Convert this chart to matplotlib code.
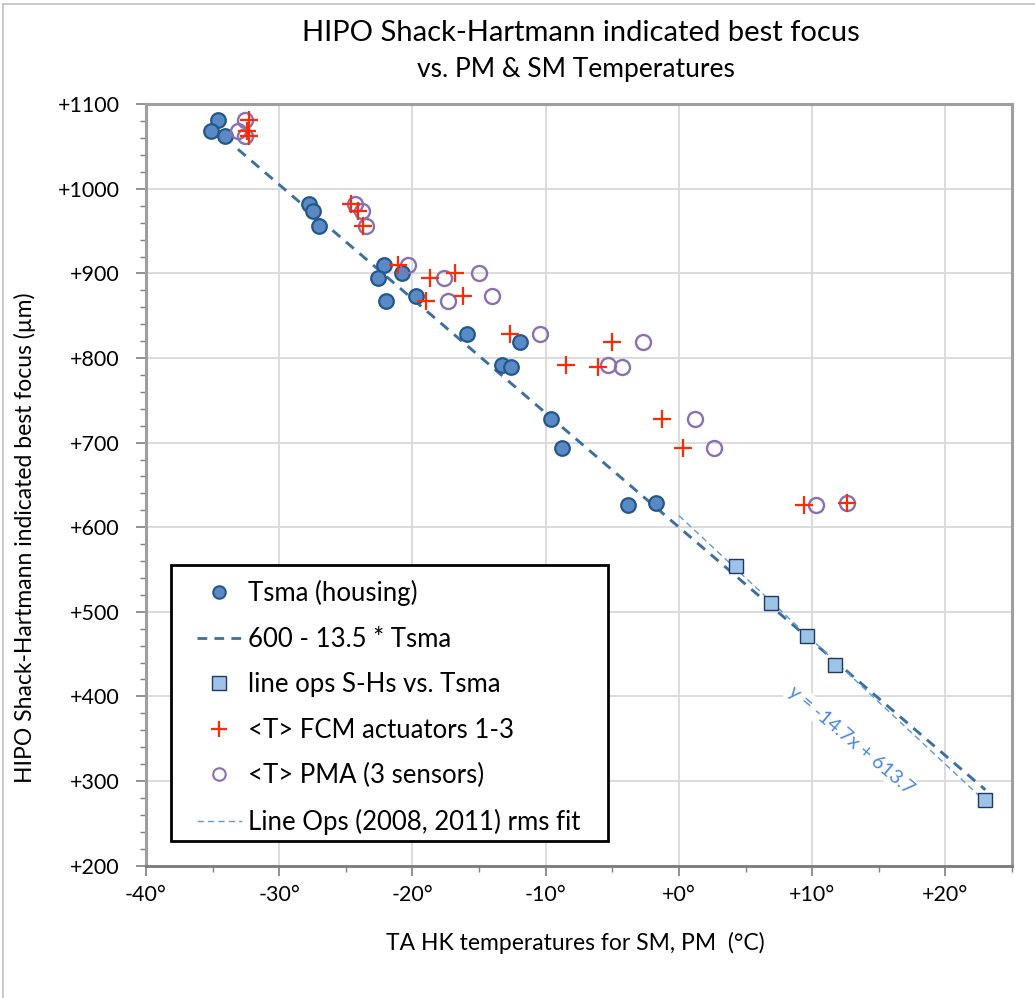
import matplotlib
matplotlib.use("Agg")
import matplotlib.pyplot as plt
from matplotlib.lines import Line2D
from matplotlib.patches import Rectangle
import numpy as np

plt.rcParams['font.family'] = ['Lato', 'DejaVu Sans']

# Shack-Hartmann best-focus readings (µm) and the temperatures logged with each
focus = [1081, 1068, 1063, 982, 974, 956, 910, 895, 900, 867, 873,
         828, 819, 792, 789, 728, 694, 626, 629]
t_sma = [-34.6, -35.1, -34.1, -27.8, -27.5, -27.0, -22.1, -22.6, -20.8, -22.0, -19.7,
         -15.9, -11.9, -13.3, -12.6, -9.6, -8.8, -3.8, -1.7]
t_fcm = [-32.3, -32.4, -32.3, -24.6, -24.1, -23.7, -21.1, -18.7, -16.8, -19.0, -16.2,
         -12.7, -5.0, -8.5, -6.1, -1.3, 0.3, 9.4, 12.6]
t_pma = [-32.6, -33.1, -32.6, -24.3, -23.8, -23.5, -20.3, -17.6, -15.0, -17.3, -14.0,
         -10.4, -2.7, -5.3, -4.3, 1.2, 2.6, 10.3, 12.6]

# line-ops S-H measurements vs. Tsma
lineops_t = [4.25, 6.9, 9.6, 11.75, 23.0]
lineops_focus = [554, 510, 471, 437, 277]

# model 600 - 13.5 * Tsma and the line-ops rms fit
model_t = [-33.1, 23.0]
model_a, model_b = 600.0, -13.5
fit_t = [0.0, 23.0]
fit_a, fit_b = 613.7, -14.7

x_ticks = [-40, -30, -20, -10, 0, 10, 20]
y_ticks = [200, 300, 400, 500, 600, 700, 800, 900, 1000, 1100]

W, H = 1035, 998
fig = plt.figure(figsize=(W / 100, H / 100), dpi=100)
ax = fig.add_axes([146 / W, 1 - 865.5 / H, 866 / W, 761.2 / H])

ax.set_xlim(-40, 25)
ax.set_ylim(200, 1100)
ax.set_xticks(x_ticks)
ax.set_xticklabels([f"{v:+d}°" for v in x_ticks])
ax.set_xticks(np.arange(-40, 26, 5), minor=True)
ax.set_yticks(y_ticks)
ax.set_yticklabels([f"+{v}" for v in y_ticks])
ax.set_yticks(np.arange(200, 1101, 20), minor=True)

ax.grid(which='major', color='#d9d9d9', lw=1.3)
ax.set_axisbelow(True)
ax.tick_params(which='major', direction='out', length=7, width=1.2, color='#7f7f7f',
               labelsize=15.5, labelcolor='black')
ax.tick_params(which='minor', direction='out', length=4, width=1.0, color='#7f7f7f')
ax.tick_params(axis='y', which='major', pad=12)
ax.tick_params(axis='x', which='major', pad=7)

for side in ['left', 'top', 'right']:
    ax.spines[side].set_color('#9e9e9e')
    ax.spines[side].set_linewidth(2.2)
ax.spines['bottom'].set_color('#7a7a7a')
ax.spines['bottom'].set_linewidth(2.0)

# lines
mt = np.array(model_t)
ax.plot(mt, model_a + model_b * mt, color='#3d6fa0', lw=2.1,
        linestyle=(0, (3.5, 2.6)), zorder=2)
ft = np.array(fit_t)
ax.plot(ft, fit_a + fit_b * ft, color='#5b9bd5', lw=1.0,
        linestyle=(0, (4.5, 3.0)), zorder=2.1)

# markers
ax.plot(t_sma, focus, 'o', ms=10.5, mfc='#5a8ac6', mec='#24578a', mew=1.6,
        linestyle='none', zorder=3)
ax.plot(lineops_t, lineops_focus, 's', ms=10.5, mfc='#9dc3e6', mec='#1f3864',
        mew=1.0, linestyle='none', zorder=3)
ax.plot(t_pma, focus, 'o', ms=10.8, mfc='none', mec='#8b6fb3', mew=1.7,
        linestyle='none', zorder=3.2)
ax.plot(t_fcm, focus, '+', ms=13, mec='#ff2a00', mew=1.6,
        linestyle='none', zorder=3.4)

# fit equation
ax.text(12.95, 348, f"y = {fit_b:.1f}x + {fit_a:.1f}", rotation=-40,
        rotation_mode='anchor', ha='center', va='center', color='#4a86e8',
        fontsize=14, zorder=2.5,
        bbox=dict(fc='white', ec='none', pad=1.5))

# legend
handles = [
    Line2D([], [], marker='o', ms=9, mfc='#5a8ac6', mec='#24578a', mew=1.5, ls='none'),
    Line2D([], [], color='#3d6fa0', lw=2.0, ls=(0, (3.5, 2.6))),
    Line2D([], [], marker='s', ms=10, mfc='#9dc3e6', mec='#1f3864', mew=1.0, ls='none'),
    Line2D([], [], marker='+', ms=11, mec='#ff2a00', mew=1.6, ls='none'),
    Line2D([], [], marker='o', ms=9, mfc='none', mec='#8b6fb3', mew=1.5, ls='none'),
    Line2D([], [], color='#5b9bd5', lw=1.0, ls=(0, (4.5, 3.0))),
]
labels = ["Tsma (housing)", "600 - 13.5 * Tsma", "line ops S-Hs vs. Tsma",
          "<T> FCM actuators 1-3", "<T> PMA (3 sensors)", "Line Ops (2008, 2011) rms fit"]

ax.add_patch(Rectangle((0.0289, 0.0322), 0.5046, 0.3626, transform=ax.transAxes,
                       fc='white', ec='black', lw=2.0, zorder=4.5))
leg = ax.legend(handles, labels, loc='upper left',
                bbox_to_anchor=((197 - 146) / 866, (865.5 - 580) / 761.2),
                frameon=False, fontsize=18.5, handlelength=1.75, handletextpad=0.23,
                labelspacing=0.8, borderpad=0, borderaxespad=0)
leg.set_zorder(5)

# titles and axis labels
fig.text(581 / W, 1 - 33 / H, "HIPO Shack-Hartmann indicated best focus",
         ha='center', va='center', fontsize=21)
fig.text(576 / W, 1 - 70 / H, "vs. PM & SM Temperatures",
         ha='center', va='center', fontsize=19)
fig.text(575 / W, 1 - 943 / H, "TA HK temperatures for SM, PM  (°C)",
         ha='center', va='center', fontsize=16.5)
fig.text(25 / W, 1 - 538 / H, "HIPO Shack-Hartmann indicated best focus (µm)",
         ha='center', va='center', rotation=90, fontsize=16.5)

# outer chart border
fig.add_artist(Line2D([3 / W, 1], [1 - 4 / H, 1 - 4 / H], transform=fig.transFigure,
                      color='#c0c0c0', lw=1.2))
fig.add_artist(Line2D([3 / W, 3 / W], [0, 1 - 4 / H], transform=fig.transFigure,
                      color='#c0c0c0', lw=1.2))

fig.savefig("out.png", dpi=100)
